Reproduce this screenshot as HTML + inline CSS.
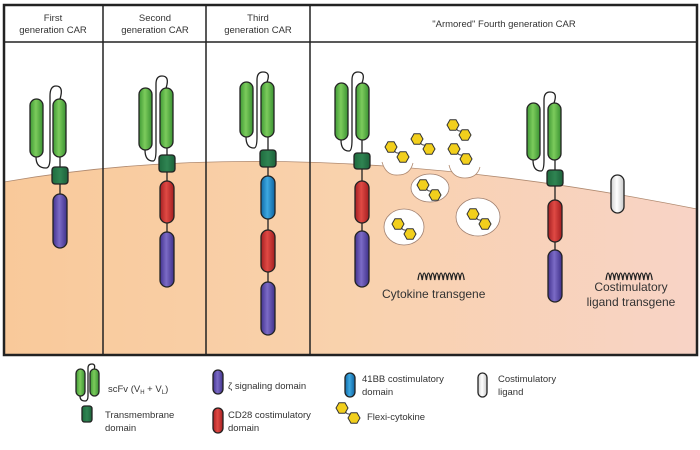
<!DOCTYPE html>
<html><head><meta charset="utf-8"><style>body{margin:0;background:#fff}svg{display:block}text{font-family:"Liberation Sans",sans-serif;fill:#333}</style></head><body>
<svg width="700" height="450" viewBox="0 0 700 450" xmlns="http://www.w3.org/2000/svg">
<defs>
<linearGradient id="bg" x1="0" x2="1" y1="0" y2="0"><stop offset="0" stop-color="#f9c99a"/><stop offset="0.5" stop-color="#f9d2ad"/><stop offset="1" stop-color="#f8d3c6"/></linearGradient>
<linearGradient id="g" x1="0" x2="1"><stop offset="0" stop-color="#3f9a35"/><stop offset="0.45" stop-color="#7ccb5c"/><stop offset="1" stop-color="#3a9232"/></linearGradient>
<linearGradient id="tm" x1="0" x2="1"><stop offset="0" stop-color="#1e6b3e"/><stop offset="0.5" stop-color="#2f8452"/><stop offset="1" stop-color="#1c613a"/></linearGradient>
<linearGradient id="r" x1="0" x2="1"><stop offset="0" stop-color="#a51f22"/><stop offset="0.45" stop-color="#e04a44"/><stop offset="1" stop-color="#a31d20"/></linearGradient>
<linearGradient id="p" x1="0" x2="1"><stop offset="0" stop-color="#43338f"/><stop offset="0.45" stop-color="#7b6bc6"/><stop offset="1" stop-color="#3f3089"/></linearGradient>
<linearGradient id="b" x1="0" x2="1"><stop offset="0" stop-color="#0f6aa8"/><stop offset="0.45" stop-color="#3ea8e0"/><stop offset="1" stop-color="#0d62a0"/></linearGradient>
<linearGradient id="w" x1="0" x2="1"><stop offset="0" stop-color="#cfcfcf"/><stop offset="0.45" stop-color="#ffffff"/><stop offset="1" stop-color="#c8c8c8"/></linearGradient>
<g id="hx"><polygon points="6,0 3,5.2 -3,5.2 -6,0 -3,-5.2 3,-5.2" fill="#f2cf1c" stroke="#333" stroke-width="1"/></g>
<g id="pair"><path d="M1,1 C4,7 6,1 9,7" fill="none" stroke="#333" stroke-width="1"/><use href="#hx" x="-2" y="-2"/><use href="#hx" x="10" y="8"/></g>
</defs>
<path d="M4,182 Q300,130 697,209 L697,355 L4,355 Z" fill="url(#bg)"/>
<path d="M4,182 Q300,130 697,209" fill="none" stroke="#b08a70" stroke-width="0.8"/>
<path d="M382,162 Q386,176 398,175 Q410,175 413,163" fill="#fff" stroke="#b08a70" stroke-width="0.8"/>
<path d="M449,165 Q452,178 465,178 Q477,178 480,167" fill="#fff" stroke="#b08a70" stroke-width="0.8"/>
<ellipse cx="430" cy="188" rx="19" ry="14" fill="#fff" stroke="#a08070" stroke-width="0.8"/>
<ellipse cx="478" cy="217" rx="22" ry="19" fill="#fff" stroke="#a08070" stroke-width="0.8"/>
<ellipse cx="404" cy="227" rx="20" ry="18" fill="#fff" stroke="#a08070" stroke-width="0.8"/>
<g stroke="#222" stroke-width="1.3">
<rect x="4" y="5" width="693" height="350" fill="none" stroke-width="2.5"/>
<line x1="4" y1="42" x2="697" y2="42" stroke-width="1.5"/>
<line x1="103" y1="5" x2="103" y2="355" stroke-width="1.5"/>
<line x1="206" y1="5" x2="206" y2="355" stroke-width="1.5"/>
<line x1="310" y1="5" x2="310" y2="355" stroke-width="1.5"/>

<line x1="60" y1="157" x2="60" y2="240"/>
<path d="M36,157 Q36,168 46,168 Q50,168 50,158 L50,96 Q50,86 56,86 Q64,86 60,99" fill="none"/>
<rect x="30" y="99" width="13" height="58" rx="6.5" fill="url(#g)"/>
<rect x="53" y="99" width="13" height="58" rx="6.5" fill="url(#g)"/>
<rect x="52" y="167" width="16" height="17" rx="3" fill="url(#tm)"/>
<rect x="53" y="194" width="14" height="54" rx="7" fill="url(#p)"/>

<line x1="167" y1="148" x2="167" y2="280"/>
<path d="M145,150 Q145,161 153,161 Q156,161 156,150 L156,84 Q156,76 162,76 Q170,76 166,88" fill="none"/>
<rect x="139" y="88" width="13" height="62" rx="6.5" fill="url(#g)"/>
<rect x="160" y="88" width="13" height="60" rx="6.5" fill="url(#g)"/>
<rect x="159" y="155" width="16" height="17" rx="3" fill="url(#tm)"/>
<rect x="160" y="181" width="14" height="42" rx="7" fill="url(#r)"/>
<rect x="160" y="232" width="14" height="55" rx="7" fill="url(#p)"/>

<line x1="268" y1="137" x2="268" y2="330"/>
<path d="M246,137 Q246,148 254,148 Q257,148 257,137 L257,80 Q257,72 263,72 Q271,72 267,82" fill="none"/>
<rect x="240" y="82" width="13" height="55" rx="6.5" fill="url(#g)"/>
<rect x="261" y="82" width="13" height="55" rx="6.5" fill="url(#g)"/>
<rect x="260" y="150" width="16" height="17" rx="3" fill="url(#tm)"/>
<rect x="261" y="176" width="14" height="43" rx="7" fill="url(#b)"/>
<rect x="261" y="230" width="14" height="42" rx="7" fill="url(#r)"/>
<rect x="261" y="282" width="14" height="53" rx="7" fill="url(#p)"/>

<line x1="362" y1="140" x2="362" y2="280"/>
<path d="M341,140 Q341,151 349,151 Q352,151 352,140 L352,80 Q352,72 358,72 Q366,72 362,83" fill="none"/>
<rect x="335" y="83" width="13" height="57" rx="6.5" fill="url(#g)"/>
<rect x="356" y="83" width="13" height="57" rx="6.5" fill="url(#g)"/>
<rect x="354" y="153" width="16" height="16" rx="3" fill="url(#tm)"/>
<rect x="355" y="181" width="14" height="42" rx="7" fill="url(#r)"/>
<rect x="355" y="231" width="14" height="56" rx="7" fill="url(#p)"/>

<line x1="555" y1="160" x2="555" y2="295"/>
<path d="M533,160 Q533,171 541,171 Q544,171 544,160 L544,100 Q544,92 550,92 Q558,92 554,103" fill="none"/>
<rect x="527" y="103" width="13" height="57" rx="6.5" fill="url(#g)"/>
<rect x="548" y="103" width="13" height="57" rx="6.5" fill="url(#g)"/>
<rect x="547" y="170" width="16" height="16" rx="3" fill="url(#tm)"/>
<rect x="548" y="200" width="14" height="42" rx="7" fill="url(#r)"/>
<rect x="548" y="250" width="14" height="52" rx="7" fill="url(#p)"/>

<rect x="611" y="175" width="13" height="38" rx="6.5" fill="url(#w)"/>

<path d="M418,280 q2,-14 4.2,0 q2,-14 4.2,0 q2,-14 4.2,0 q2,-14 4.2,0 q2,-14 4.2,0 q2,-14 4.2,0 q2,-14 4.2,0 q2,-14 4.2,0 q2,-14 4.2,0 q2,-14 4.2,0 q2,-14 4.2,0" fill="none" stroke-width="1.3"/>
<path d="M606,280 q2,-14 4.2,0 q2,-14 4.2,0 q2,-14 4.2,0 q2,-14 4.2,0 q2,-14 4.2,0 q2,-14 4.2,0 q2,-14 4.2,0 q2,-14 4.2,0 q2,-14 4.2,0 q2,-14 4.2,0 q2,-14 4.2,0" fill="none" stroke-width="1.3"/>

<path d="M80,396 Q80,401 85,401 Q88,401 88,396 L88,368 Q88,364 92,364 Q96,364 94,370" fill="none"/>
<rect x="76" y="369" width="9" height="27" rx="4.5" fill="url(#g)"/>
<rect x="90" y="369" width="9" height="27" rx="4.5" fill="url(#g)"/>
<rect x="82" y="406" width="10" height="16" rx="2.5" fill="url(#tm)"/>
<rect x="213" y="370" width="10" height="24" rx="5" fill="url(#p)"/>
<rect x="213" y="408" width="10" height="25" rx="5" fill="url(#r)"/>
<rect x="345" y="373" width="10" height="24" rx="5" fill="url(#b)"/>
<rect x="478" y="373" width="9" height="24" rx="4.5" fill="url(#w)"/>
</g>
<use href="#pair" x="393" y="149"/>
<use href="#pair" x="419" y="141"/>
<use href="#pair" x="455" y="127"/>
<use href="#pair" x="456" y="151"/>
<use href="#pair" x="425" y="187"/>
<use href="#pair" x="475" y="216"/>
<use href="#pair" x="400" y="226"/>
<use href="#pair" x="344" y="410"/>

<g font-size="9.5" text-anchor="middle">
<text x="53" y="21">First</text><text x="53" y="33">generation CAR</text>
<text x="155" y="21">Second</text><text x="155" y="33">generation CAR</text>
<text x="258" y="21">Third</text><text x="258" y="33">generation CAR</text>
<text x="504" y="27">"Armored" Fourth generation CAR</text>
</g>
<g font-size="12">
<text x="382" y="298">Cytokine transgene</text>
<text x="631" y="291" text-anchor="middle">Costimulatory</text>
<text x="631" y="306" text-anchor="middle">ligand transgene</text>
</g>
<g font-size="9.5">
<text x="108" y="392">scFv (V<tspan font-size="6" dy="2">H</tspan><tspan dy="-2"> + V</tspan><tspan font-size="6" dy="2">L</tspan><tspan dy="-2">)</tspan></text>
<text x="105" y="418">Transmembrane</text><text x="105" y="431">domain</text>
<text x="228" y="389">ζ signaling domain</text>
<text x="228" y="418">CD28 costimulatory</text><text x="228" y="431">domain</text>
<text x="362" y="382">41BB costimulatory</text><text x="362" y="395">domain</text>
<text x="367" y="420">Flexi-cytokine</text>
<text x="498" y="382">Costimulatory</text><text x="498" y="395">ligand</text>
</g>
</svg>
</body></html>
